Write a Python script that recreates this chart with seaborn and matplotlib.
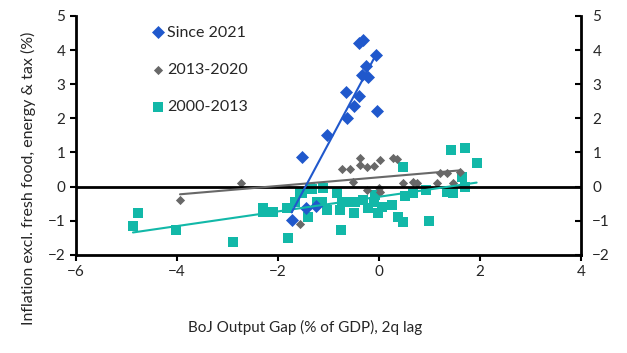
import pandas as pd
import seaborn as sns
import matplotlib.pyplot as plt

sns.set_style('white')
plt.rcParams['font.family'] = ['Lato', 'DejaVu Sans']

# data (output gap, core inflation)
since2021_x = [-1.73, -1.52, -1.45, -1.25, -1.04, -0.66, -0.64, -0.5, -0.4, -0.34, -0.26, -0.21, -0.07, -0.05, -0.4, -0.31]
since2021_y = [-0.98, 0.87, -0.62, -0.58, 1.51, 2.78, 2.0, 2.36, 2.64, 3.27, 3.52, 3.22, 3.84, 2.22, 4.22, 4.28]

y2013_x = [-3.94, -2.73, -1.56, -0.74, -0.57, -0.38, -0.38, -0.24, -0.11, 0.02,
           0.28, 0.35, -0.51, -0.24, -0.01, 0.02, 0.48, 0.68, 0.75, 1.14,
           1.21, 1.34, 1.47, 1.6]
y2013_y = [-0.39, 0.1, -1.1, 0.51, 0.51, 0.83, 0.63, 0.58, 0.6, 0.78,
           0.83, 0.8, 0.14, -0.1, -0.05, -0.15, 0.1, 0.14, 0.1, 0.1,
           0.39, 0.39, 0.1, 0.44]

y2000_x = [-4.87, -4.78, -4.01, -2.9, -2.3, -2.3, -2.1, -1.8, -1.8, -1.83,
           -1.66, -1.53, -1.56, -1.33, -1.1, -1.4, -1.23, -1.13, -1.04, -0.84,
           -0.74, -0.77, -0.76, -0.61, -0.5, -0.48, -0.31, -0.21, -0.08, -0.11,
           -0.03, 0.05, 0.25, 0.38, 0.47, 0.51, 0.68, 0.48, 0.92, 0.99,
           1.34, 1.47, 1.42, 1.7, 1.93, 1.64, 1.7, -1.37]
y2000_y = [-1.16, -0.76, -1.27, -1.62, -0.64, -0.74, -0.74, -0.64, -1.5, -0.64,
           -0.44, -0.2, -0.15, -0.08, -0.05, -0.88, -0.44, -0.44, -0.69, -0.2,
           -0.44, -0.69, -1.27, -0.44, -0.78, -0.44, -0.39, -0.64, -0.25, -0.44,
           -0.76, -0.59, -0.54, -0.88, -1.03, -0.29, -0.2, 0.58, -0.1, -1.0,
           -0.15, -0.18, 1.07, 1.12, 0.7, 0.29, 0.0, -0.05]

labels = ['Since 2021', '2013-2020', '2000-2013']

df = pd.concat([
    pd.DataFrame({'gap': since2021_x, 'infl': since2021_y, 'period': labels[0]}),
    pd.DataFrame({'gap': y2013_x, 'infl': y2013_y, 'period': labels[1]}),
    pd.DataFrame({'gap': y2000_x, 'infl': y2000_y, 'period': labels[2]}),
])

styles = {
    '2000-2013': dict(color='#12B8A8', marker='s', s=46),
    '2013-2020': dict(color='#686868', marker='D', s=22),
    'Since 2021': dict(color='#2058CC', marker='D', s=44),
}

fig = plt.figure(figsize=(6.27, 3.53), dpi=100)
ax = fig.add_axes([0.121, 0.278, 0.806, 0.677])

# draw back to front
for p in ['2000-2013', '2013-2020', 'Since 2021']:
    st = styles[p]
    sns.regplot(data=df[df['period'] == p], x='gap', y='infl', ax=ax, ci=None,
                color=st['color'], marker=st['marker'], label=p,
                scatter_kws=dict(s=st['s'], linewidths=0, alpha=1),
                line_kws=dict(lw=1.5))

ax.axhline(0, color='black', lw=2, zorder=1)
ax.set_xlim(-6, 4)
ax.set_ylim(-2, 5)
ax.set_xticks(range(-6, 5, 2))
ax.set_yticks(range(-2, 6))
ax.set_xlabel('')
ax.set_ylabel('')

for s in ['top', 'right']:
    ax.spines[s].set_visible(False)
for s in ['left', 'bottom']:
    ax.spines[s].set_color('black')
    ax.spines[s].set_linewidth(2)
ax.tick_params(axis='both', direction='out', length=4, width=1.5, color='black',
               labelsize=11, left=True, bottom=True)

ax2 = ax.twinx()
ax2.set_ylim(-2, 5)
ax2.set_yticks(range(-2, 6))
for s in ['top', 'left', 'bottom']:
    ax2.spines[s].set_visible(False)
ax2.spines['right'].set_color('black')
ax2.spines['right'].set_linewidth(2)
ax2.tick_params(axis='y', direction='in', length=4, width=1.5, color='black',
                labelsize=11, right=True, pad=8)

handles, labs = ax.get_legend_handles_labels()
order = [labs.index(l) for l in labels]
ax.legend([handles[i] for i in order], labels, frameon=False, loc='upper left',
          bbox_to_anchor=(0.118, 1.02), labelspacing=1.45, handletextpad=0.1,
          handlelength=1.0, fontsize=11.5)

fig.text(305 / 627, 1 - 327 / 353, 'BoJ Output Gap (% of GDP), 2q lag',
         ha='center', va='center', fontsize=11)
fig.text(28 / 627, 1 - 178 / 353, 'Inflation excl. fresh food, energy & tax (%)',
         ha='center', va='center', rotation=90, fontsize=11.5)

fig.savefig('out.png', dpi=100)
